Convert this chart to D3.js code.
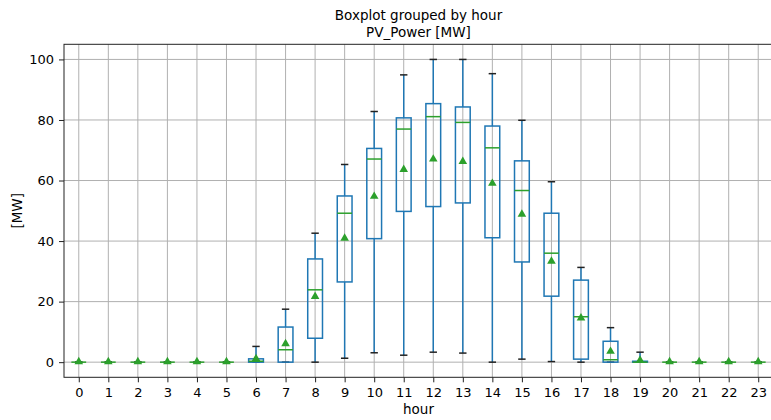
<!DOCTYPE html>
<html lang="en">
<head>
<meta charset="utf-8" />
<title>Boxplot grouped by hour</title>
<script src="https://d3js.org/d3.v7.min.js"></script>
<style>
  body { margin: 0; background: #fff; }
  text { font-family: "DejaVu Sans", sans-serif; fill: #000; }
  .grid line { stroke: #b0b0b0; stroke-width: 1; }
  .axis path, .axis line { stroke: #222; }
</style>
</head>
<body>
<script>

// hourly PV power stats
var hours   = d3.range(24);
var whiskLo = [0,0,0,0,0,0, 0, 0, 0, 1.3, 3.1, 2.3, 3.3, 3.0, 0, 1.0, 0.2, 0, 0, 0, 0,0,0,0];
var q1      = [0,0,0,0,0,0, 0, 0, 7.9, 26.5, 40.8, 49.8, 51.4, 52.6, 41.1, 33.1, 21.8, 1.0, 0, 0, 0,0,0,0];
var medians = [0,0,0,0,0,0, 0.3, 4.1, 23.9, 49.2, 67.1, 77.0, 81.1, 79.2, 70.8, 56.7, 36.0, 15.0, 0.8, 0, 0,0,0,0];
var q3      = [0,0,0,0,0,0, 1.1, 11.6, 34.1, 54.9, 70.6, 80.7, 85.4, 84.3, 78.0, 66.5, 49.2, 27.1, 6.9, 0.3, 0,0,0,0];
var whiskHi = [0,0,0,0,0,0, 5.2, 17.5, 42.6, 65.3, 82.8, 94.9, 100, 100, 95.3, 79.9, 59.6, 31.3, 11.4, 3.3, 0,0,0,0];
var means   = [0,0,0,0,0,0, 1.0, 5.9, 21.5, 40.8, 54.6, 63.5, 66.9, 66.1, 58.9, 48.7, 33.2, 14.4, 3.4, 0.5, 0,0,0,0];
var yTicks  = [0, 20, 40, 60, 80, 100];

var width = 771, height = 420;
var margin = {left: 64, right: 773, top: 44.3, bottom: 377.3};

var x = d3.scaleLinear().domain([-0.5, 23.5]).range([margin.left, margin.right]);
var y = d3.scaleLinear().domain([-5, 105]).range([margin.bottom, margin.top]);
var unit = x(1) - x(0);

var svg = d3.select("body").append("svg")
    .attr("width", width)
    .attr("height", height);

// grid
var grid = svg.append("g").attr("class", "grid");
grid.selectAll(".gx").data(hours).enter().append("line")
    .attr("x1", d => x(d)).attr("x2", d => x(d))
    .attr("y1", margin.top).attr("y2", margin.bottom);
grid.selectAll(".gy").data(yTicks).enter().append("line")
    .attr("x1", margin.left).attr("x2", margin.right)
    .attr("y1", d => y(d)).attr("y2", d => y(d));

var data = hours.map(function(h, i) {
  return {h: h, lo: whiskLo[i], q1: q1[i], med: medians[i], q3: q3[i], hi: whiskHi[i], mean: means[i]};
});

var boxW = unit * 0.5, capW = unit * 0.25;
var box = svg.append("g").selectAll(".box").data(data).enter().append("g");

// whiskers
box.append("line")
    .attr("x1", d => x(d.h)).attr("x2", d => x(d.h))
    .attr("y1", d => y(d.q3)).attr("y2", d => y(d.hi))
    .attr("stroke", "#1f77b4").attr("stroke-width", 1.5);
box.append("line")
    .attr("x1", d => x(d.h)).attr("x2", d => x(d.h))
    .attr("y1", d => y(d.q1)).attr("y2", d => y(d.lo))
    .attr("stroke", "#1f77b4").attr("stroke-width", 1.5);
// caps
box.append("line")
    .attr("x1", d => x(d.h) - capW / 2).attr("x2", d => x(d.h) + capW / 2)
    .attr("y1", d => y(d.hi)).attr("y2", d => y(d.hi))
    .attr("stroke", "#222").attr("stroke-width", 1.5);
box.append("line")
    .attr("x1", d => x(d.h) - capW / 2).attr("x2", d => x(d.h) + capW / 2)
    .attr("y1", d => y(d.lo)).attr("y2", d => y(d.lo))
    .attr("stroke", "#222").attr("stroke-width", 1.5);
// box
box.append("rect")
    .attr("x", d => x(d.h) - boxW / 2)
    .attr("y", d => y(d.q3))
    .attr("width", boxW)
    .attr("height", d => y(d.q1) - y(d.q3))
    .attr("fill", "none")
    .attr("stroke", "#1f77b4").attr("stroke-width", 1.5);
// median
box.append("line")
    .attr("x1", d => x(d.h) - boxW / 2).attr("x2", d => x(d.h) + boxW / 2)
    .attr("y1", d => y(d.med)).attr("y2", d => y(d.med))
    .attr("stroke", "#2ca02c").attr("stroke-width", 1.5);
// mean marker
box.append("path")
    .attr("d", d3.symbol().type(d3.symbolTriangle).size(32))
    .attr("transform", d => "translate(" + x(d.h) + "," + (y(d.mean) - 0.5) + ")")
    .attr("fill", "#2ca02c");

// axes
svg.append("g").attr("class", "axis")
    .attr("transform", "translate(0," + margin.bottom + ")")
    .call(d3.axisBottom(x).tickValues(hours).tickSize(5).tickPadding(5).tickSizeOuter(0));
svg.append("g").attr("class", "axis")
    .attr("transform", "translate(" + margin.left + ",0)")
    .call(d3.axisLeft(y).tickValues(yTicks).tickSize(5).tickPadding(5).tickSizeOuter(0));
svg.selectAll(".axis text").style("font-size", "13px").style("font-family", "DejaVu Sans");
svg.selectAll(".axis .domain").remove();

// spines
svg.append("rect")
    .attr("x", margin.left).attr("y", margin.top)
    .attr("width", margin.right - margin.left).attr("height", margin.bottom - margin.top)
    .attr("fill", "none").attr("stroke", "#222").attr("stroke-width", 1);

// titles
var cx = (margin.left + margin.right) / 2;
svg.append("text").attr("x", cx).attr("y", 20)
    .attr("text-anchor", "middle").style("font-size", "13.5px")
    .text("Boxplot grouped by hour");
svg.append("text").attr("x", cx).attr("y", 37)
    .attr("text-anchor", "middle").style("font-size", "13.5px")
    .text("PV_Power [MW]");
svg.append("text").attr("x", cx).attr("y", 414)
    .attr("text-anchor", "middle").style("font-size", "13.5px")
    .text("hour");
svg.append("text")
    .attr("transform", "translate(22," + ((margin.top + margin.bottom) / 2) + ") rotate(-90)")
    .attr("text-anchor", "middle").style("font-size", "13.5px")
    .text("[MW]");

</script>
</body>
</html>
